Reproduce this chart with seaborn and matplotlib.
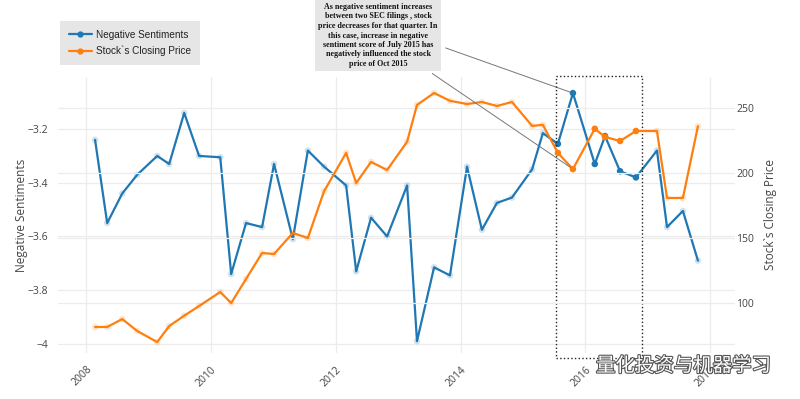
import numpy as np
import pandas as pd
import matplotlib
matplotlib.use('Agg')
import matplotlib.pyplot as plt
import matplotlib.dates as mdates
import matplotlib.patheffects as pe
from matplotlib.patches import Rectangle
from matplotlib.lines import Line2D
import seaborn as sns

# filing dates
filing_dates = ['2008-02-22', '2008-05-03', '2008-07-30', '2008-10-26',
                '2009-02-20', '2009-05-01', '2009-07-28', '2009-10-23',
                '2010-02-24', '2010-04-29', '2010-07-25', '2010-10-27',
                '2011-01-05', '2011-04-25', '2011-07-22', '2011-10-25',
                '2012-03-02', '2012-04-30', '2012-07-26', '2012-10-28',
                '2013-02-22', '2013-04-21', '2013-07-30', '2013-10-31',
                '2014-02-08', '2014-05-06', '2014-08-02', '2014-10-29',
                '2015-02-24', '2015-04-28', '2015-07-25', '2015-10-21',
                '2016-02-26', '2016-04-26', '2016-07-23', '2016-10-24',
                '2017-02-24', '2017-04-24', '2017-07-26', '2017-10-22']
neg_sentiment = [-3.24, -3.55, -3.44, -3.37, -3.30, -3.33, -3.14, -3.30,
                 -3.305, -3.74, -3.55, -3.565, -3.33, -3.61, -3.28, -3.34,
                 -3.41, -3.73, -3.53, -3.60, -3.41, -3.99, -3.715, -3.745,
                 -3.34, -3.575, -3.475, -3.455, -3.35, -3.215, -3.255, -3.066,
                 -3.33, -3.226, -3.357, -3.38, -3.28, -3.565, -3.505, -3.69]
close_price = [81.6, 81.6, 87.7, 78.5, 70.0, 82.3, 90.3, 97.7,
               108.5, 100.0, 118.5, 138.5, 137.7, 153.9, 150.0, 186.0,
               215.4, 192.3, 208.5, 202.3, 224.0, 252.3, 261.5, 255.5,
               253.0, 254.6, 251.5, 254.6, 236.2, 237.0, 215.4, 203.0,
               234.0, 227.7, 224.6, 232.3, 232.3, 180.8, 180.8, 236.0]

# highlighted window (dotted box)
box_start, box_end = '2015-07-15', '2016-12-01'
note = ("As negative sentiment increases\n"
        "between two SEC filings , stock\n"
        "price decreases for that quarter. In\n"
        "this case, increase in negative\n"
        "sentiment score of July 2015 has\n"
        "negatively influenced the stock\n"
        "price of Oct 2015")

df = pd.DataFrame({'date': pd.to_datetime(filing_dates),
                   'neg': neg_sentiment, 'price': close_price})
sel = (df['date'] >= box_start) & (df['date'] <= box_end)

BLUE = '#1f77b4'
ORANGE = '#ff7f0e'
TXT = '#444444'

sns.set_theme(style='white')
plt.rcParams['font.family'] = ['Open Sans', 'DejaVu Sans']

fig, ax = plt.subplots(figsize=(8, 3.99), dpi=100)
fig.subplots_adjust(left=58 / 800, right=735 / 800, top=1 - 77 / 399, bottom=1 - 353 / 399)
ax2 = ax.twinx()

sns.lineplot(data=df, x='date', y='neg', ax=ax, color=BLUE, lw=1.6, sort=False)
sns.scatterplot(data=df[~sel], x='date', y='neg', ax=ax, color=BLUE, s=22,
                alpha=0.2, edgecolor='none', zorder=3)
sns.scatterplot(data=df[sel], x='date', y='neg', ax=ax, color=BLUE, s=22,
                edgecolor='none', zorder=3)

sns.lineplot(data=df, x='date', y='price', ax=ax2, color=ORANGE, lw=1.6, sort=False)
sns.scatterplot(data=df[~sel], x='date', y='price', ax=ax2, color=ORANGE, s=22,
                alpha=0.2, edgecolor='none', zorder=3)
sns.scatterplot(data=df[sel], x='date', y='price', ax=ax2, color=ORANGE, s=22,
                edgecolor='none', zorder=3)

ax.set_xlim(pd.Timestamp('2007-07-20'), pd.Timestamp('2018-05-27'))
ax.set_ylim(-4.034, -3.006)
ax2.set_ylim(61.6, 273.8)

ax.set_yticks([-4, -3.8, -3.6, -3.4, -3.2])
ax.set_yticklabels([f'{v:g}'.replace('-', '\u2212') for v in ax.get_yticks()])
ax2.set_yticks([100, 150, 200, 250])
ax.xaxis.set_major_locator(mdates.YearLocator(2))
ax.xaxis.set_major_formatter(mdates.DateFormatter('%Y'))
for lab in ax.get_xticklabels():
    lab.set_rotation(45)
    lab.set_ha('right')
    lab.set_rotation_mode('anchor')

for a in (ax, ax2):
    for s in a.spines.values():
        s.set_visible(False)
    a.tick_params(length=0, labelsize=7.5, labelcolor=TXT)
    a.grid(True, color='#ececec', lw=0.9)
    a.set_axisbelow(True)
ax.tick_params(axis='y', pad=7)
ax.tick_params(axis='x', pad=8)
ax2.tick_params(axis='y', pad=1)
ax2.grid(False, axis='x')

ax.set_xlabel('')
ax.set_ylabel('Negative Sentiments', fontsize=8.5, color=TXT, labelpad=0)
ax2.set_ylabel('Stock`s Closing Price', fontsize=8.5, color=TXT, labelpad=7)

# dotted highlight box
x0 = mdates.date2num(pd.Timestamp(box_start))
x1 = mdates.date2num(pd.Timestamp(box_end))
ax.add_patch(Rectangle((x0, -4.053), x1 - x0, 1.05, fill=False, ls=':',
                       lw=1.0, ec='#222222', zorder=5, clip_on=False))

# note and arrows
fig.text(378 / 800, 1 - 3 / 399, note, ha='center', va='top', fontsize=5.8,
         family='Liberation Serif', weight='bold', color='#111111',
         linespacing=1.25,
         bbox=dict(boxstyle='square,pad=0.35', fc='#e6e6e6', ec='none'))
peak = df.index[df['date'] == pd.Timestamp('2015-10-21')][0]
ax.annotate('', xy=(df['date'][peak], df['neg'][peak]), xycoords='data',
            xytext=(443 / 800, 1 - 47 / 399), textcoords='figure fraction',
            arrowprops=dict(arrowstyle='-', color='#777777', lw=0.7))
ax2.annotate('', xy=(df['date'][peak], df['price'][peak]), xycoords='data',
             xytext=(430 / 800, 1 - 72 / 399), textcoords='figure fraction',
             arrowprops=dict(arrowstyle='-', color='#777777', lw=0.7))

# legend
handles = [Line2D([], [], color=BLUE, lw=1.6, marker='o', ms=3.5),
           Line2D([], [], color=ORANGE, lw=1.6, marker='o', ms=3.5)]
leg = fig.legend(handles, ['Negative Sentiments', 'Stock`s Closing Price'],
                 loc='upper left', bbox_to_anchor=(60 / 800, 1 - 21 / 399),
                 frameon=True, fancybox=False, facecolor='#e6e6e6',
                 edgecolor='none', handlelength=2.3,
                 prop={'family': 'Liberation Sans', 'size': 7.2},
                 borderaxespad=0, labelspacing=0.65, borderpad=0.85,
                 handletextpad=0.5)
leg.get_frame().set_alpha(1)
for t in leg.get_texts():
    t.set_color('#222222')

# watermark
fig.text(596 / 800, 1 - 366 / 399, '量化投资与机器学习', ha='left', va='center',
         fontsize=14, family=['Noto Sans CJK SC', 'DejaVu Sans'], color='white',
         path_effects=[pe.withStroke(linewidth=1.6, foreground='#555555')])

fig.savefig('out.png', dpi=100)
